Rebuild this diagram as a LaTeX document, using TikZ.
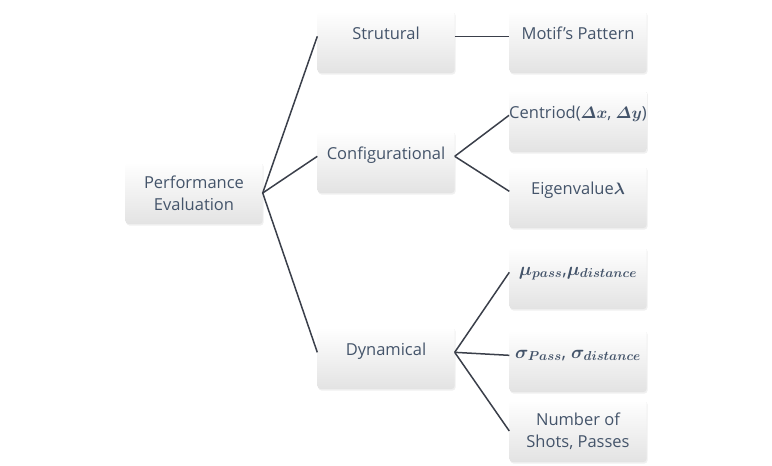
\RequirePackage{fix-cm}
\documentclass[tikz,border=0pt]{standalone}
\usepackage{amsmath}
\usepackage{fontspec}
\setmainfont{Open Sans}
\usetikzlibrary{shadows}

\definecolor{txtcol}{HTML}{44546A}
\definecolor{linecol}{HTML}{3A3F4A}

\begin{document}
\begin{tikzpicture}[x=1pt, y=-1pt,
    box/.style={rectangle, rounded corners=3pt, minimum width=137pt, minimum height=62pt,
        top color=white, bottom color=black!11, text=txtcol, align=center,
        font=\fontsize{16.5}{22}\selectfont\boldmath,
        drop shadow={opacity=0.12, shadow xshift=1pt, shadow yshift=-1.5pt}},
    one/.style={box, text height=9pt, text depth=15pt},
    mathbox/.style={one, font=\fontsize{18.5}{22}\selectfont\boldmath},
    link/.style={draw=linecol, line width=1.5pt}]

    \useasboundingbox (0,0) rectangle (772,466);

    % root
    \node[box] (root) at (194,193) {Performance\\Evaluation};

    % first level
    \node[one] (strut)  at (386,42)  {Strutural};
    \node[one] (config) at (386,162) {Configurational};
    \node[one] (dyna)   at (386,358) {Dynamical};

    % second level
    \node[one] (motif)    at (578,42)  {Motif's Pattern};
    \node[one, inner xsep=0pt] (centroid) at (578,121) {Centriod($\varDelta x$, $\varDelta y$)};
    \node[one] (eigen)    at (578,197) {Eigenvalue$\lambda$};
    \node[mathbox] (mu)    at (578,278) {$\mu_{pass}$,$\mu_{distance}$};
    \node[mathbox] (sigma) at (578,361) {$\sigma_{Pass}$, $\sigma_{distance}$};
    \node[box] (shots)    at (578,431) {Number of\\Shots, Passes};

    \draw[link] (root.east) -- (strut.mid west);
    \draw[link] (root.east) -- (config.mid west);
    \draw[link] (root.east) -- (dyna.mid west);

    \draw[link] (strut.mid east) -- (motif.mid west);
    \draw[link] (config.mid east) -- (centroid.mid west);
    \draw[link] (config.mid east) -- (eigen.mid west);
    \draw[link] (dyna.mid east) -- (mu.mid west);
    \draw[link] (dyna.mid east) -- (sigma.mid west);
    \draw[link] (dyna.mid east) -- (shots.west);

\end{tikzpicture}
\end{document}
